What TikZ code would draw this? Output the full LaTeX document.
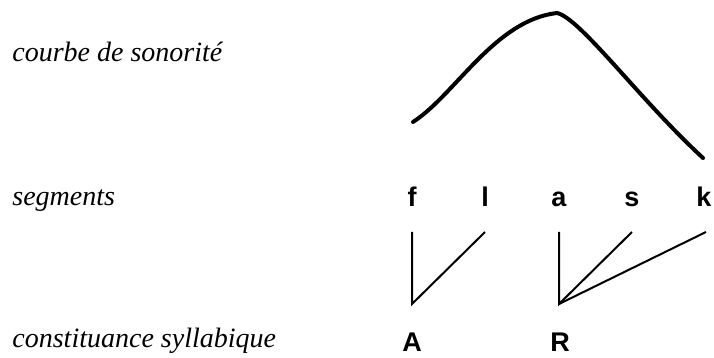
\documentclass[tikz,border=0pt]{standalone}
\usepackage{fontspec}
\setmainfont{Liberation Serif}
\newfontfamily\segfont{Liberation Sans}
\usepackage{tikz}
\usetikzlibrary{positioning}

\tikzset{
    levelname/.style = {anchor = base west, inner sep = 0pt, font = \fontsize{14}{16}\selectfont\itshape},
    seg/.style = {anchor = base, inner sep = 0pt, font = \fontsize{13.5}{16}\selectfont\segfont\bfseries},
    branch/.style = {line width = 1pt}
}

\begin{document}
\begin{tikzpicture}[x = 0.5pt, y = -0.5pt]
    \useasboundingbox (0,0) rectangle (714,358);

    % names of the three levels
    \node[levelname] (courbe) at (12,62) {courbe de sonorité};
    \node[levelname] (segments) at (12,206) {segments};
    \node[levelname] (constit) at (12,348) {constituance syllabique};

    % sonority curve
    \draw[line width = 2pt, line cap = round] (413,122) .. controls (455,95) and (495,20) .. (557,13)
        .. controls (580,18) and (640,100) .. (703,158);

    % segments
    \node[seg] (f) at (412,207) {f};
    \node[seg] (l) at (485,207) {l};
    \node[seg] (a) at (559,207) {a};
    \node[seg] (s) at (632,207) {s};
    \node[seg] (k) at (704,207) {k};

    % syllabic constituents
    \node[seg] (A) at (412,352) {A};
    \node[seg] (R) at (560,352) {R};

    \coordinate (f-top) at (412,232);
    \coordinate (l-top) at (485,232);
    \coordinate (a-top) at (559,232);
    \coordinate (s-top) at (632,232);
    \coordinate (k-top) at (706,232);
    \coordinate (A-top) at (412,304);
    \coordinate (R-top) at (559,304);

    \draw[branch] (f-top) -- (A-top) -- (l-top);
    \draw[branch] (a-top) -- (R-top) -- (s-top);
    \draw[branch] (R-top) -- (k-top);

\end{tikzpicture}
\end{document}
